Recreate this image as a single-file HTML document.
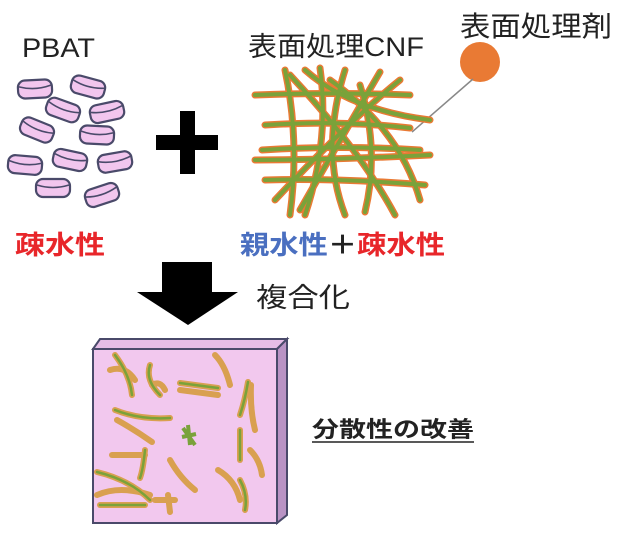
<!DOCTYPE html>
<html><head><meta charset="utf-8"><style>
html,body{margin:0;padding:0;background:#fff;}
svg{display:block}
text{font-family:"Liberation Sans","Noto Sans CJK JP",sans-serif;}
</style></head><body>
<svg width="619" height="537" viewBox="0 0 619 537" xmlns="http://www.w3.org/2000/svg">
<defs>
<g id="pill">
<rect x="-17" y="-9" width="34" height="18" rx="7" fill="#f2c6ee" stroke="#4a4a6a" stroke-width="2.2"/>
<path d="M-16,-3 Q0,2 16,-3" fill="none" stroke="#4a4a6a" stroke-width="1.6"/>
</g>
</defs>
<text x="22" y="57" font-size="27" fill="#222" textLength="73" lengthAdjust="spacingAndGlyphs">PBAT</text>
<text x="248" y="56" font-size="27" fill="#222" textLength="176" lengthAdjust="spacingAndGlyphs">表面処理CNF</text>
<text x="460" y="36" font-size="28" fill="#222" textLength="152" lengthAdjust="spacingAndGlyphs">表面処理剤</text>
<circle cx="480" cy="62" r="20" fill="#e97a34"/>
<line x1="473" y1="79" x2="412" y2="132" stroke="#888" stroke-width="1.5"/>
<use href="#pill" transform="translate(35,89) rotate(-3)"/>
<use href="#pill" transform="translate(88,87) rotate(15)"/>
<use href="#pill" transform="translate(63,110) rotate(20)"/>
<use href="#pill" transform="translate(107,112) rotate(-12)"/>
<use href="#pill" transform="translate(37,130) rotate(22)"/>
<use href="#pill" transform="translate(97,135) rotate(3)"/>
<use href="#pill" transform="translate(25,165) rotate(5)"/>
<use href="#pill" transform="translate(70,160) rotate(12)"/>
<use href="#pill" transform="translate(115,162) rotate(-10)"/>
<use href="#pill" transform="translate(53,188) rotate(0)"/>
<use href="#pill" transform="translate(102,195) rotate(-18)"/>
<rect x="156" y="135" width="62" height="15" fill="#000"/>
<rect x="180" y="111" width="15" height="63" fill="#000"/>
<text x="15" y="254" font-size="26" font-weight="bold" fill="#e8262a" textLength="90" lengthAdjust="spacingAndGlyphs">疎水性</text>
<g fill="none" stroke-linecap="round">
<g stroke="#e97a34" stroke-width="7">
<path d="M255,95 Q330,92 410,95"/><path d="M265,125 Q340,120 410,128"/><path d="M262,150 Q340,145 420,150"/><path d="M255,160 Q330,160 430,155"/><path d="M265,180 Q340,178 425,185"/><path d="M285,70 Q300,140 290,215"/><path d="M320,68 Q330,140 305,215"/><path d="M345,70 Q320,150 345,215"/><path d="M380,72 Q340,140 300,210"/><path d="M400,80 Q350,120 275,200"/><path d="M290,75 Q360,150 395,215"/><path d="M330,80 Q400,130 420,200"/><path d="M360,85 Q380,150 365,212"/><path d="M305,70 Q350,110 430,120"/>
</g>
<g stroke="#7aa23a" stroke-width="4">
<path d="M255,95 Q330,92 410,95"/><path d="M265,125 Q340,120 410,128"/><path d="M262,150 Q340,145 420,150"/><path d="M255,160 Q330,160 430,155"/><path d="M265,180 Q340,178 425,185"/><path d="M285,70 Q300,140 290,215"/><path d="M320,68 Q330,140 305,215"/><path d="M345,70 Q320,150 345,215"/><path d="M380,72 Q340,140 300,210"/><path d="M400,80 Q350,120 275,200"/><path d="M290,75 Q360,150 395,215"/><path d="M330,80 Q400,130 420,200"/><path d="M360,85 Q380,150 365,212"/><path d="M305,70 Q350,110 430,120"/>
</g>
</g>
<text x="240" y="254" font-size="26" font-weight="bold" textLength="205" lengthAdjust="spacingAndGlyphs"><tspan fill="#4a6fc0">親水性</tspan><tspan fill="#222">＋</tspan><tspan fill="#e8262a">疎水性</tspan></text>
<polygon points="162,262 212,262 212,292 238,292 188,325 137,292 162,292" fill="#000"/>
<text x="256" y="307" font-size="27" fill="#222" textLength="94" lengthAdjust="spacingAndGlyphs">複合化</text>
<polygon points="93,349 100,339 287,339 277,349" fill="#e6bde6" stroke="#4a4a6a" stroke-width="2"/>
<polygon points="277,349 287,339 287,515 277,523" fill="#b993c4" stroke="#4a4a6a" stroke-width="2"/>
<rect x="93" y="349" width="184" height="174" fill="#f2c8ee" stroke="#4a4a6a" stroke-width="2"/>
<g fill="none" stroke-linecap="round">
<g stroke="#d9a050" stroke-width="6">
<path d="M115,355 Q130,375 132,395"/><path d="M110,370 Q125,365 135,380"/><path d="M150,365 Q145,380 160,395"/><path d="M152,385 Q160,380 165,390"/><path d="M180,383 L218,388"/><path d="M180,390 L218,395"/><path d="M215,355 Q225,365 230,385"/><path d="M248,382 Q245,400 240,415"/><path d="M251,385 Q250,410 255,430"/><path d="M115,410 Q140,420 170,418"/><path d="M117,420 Q135,430 152,442"/><path d="M240,430 L240,460"/><path d="M250,450 Q260,460 262,475"/><path d="M112,455 L145,455"/><path d="M145,450 Q143,470 140,478"/><path d="M170,460 Q180,478 195,490"/><path d="M97,472 Q130,480 150,500"/><path d="M97,495 Q120,485 150,495"/><path d="M100,505 L145,505"/><path d="M155,500 L175,500"/><path d="M168,495 L170,512"/><path d="M218,470 Q235,480 240,500"/><path d="M240,480 Q248,495 245,510"/>
</g>
<g stroke="#7aa23a" stroke-width="2.5">
<path d="M115,355 Q130,375 132,395"/><path d="M150,365 Q145,380 160,395"/><path d="M180,383 L218,388"/><path d="M248,382 Q245,400 240,415"/><path d="M115,410 Q140,420 170,418"/><path d="M240,430 L240,460"/><path d="M145,450 Q143,470 140,478"/><path d="M97,472 Q130,480 150,500"/><path d="M100,505 L145,505"/><path d="M240,480 Q248,495 245,510"/>
</g>
</g>
<g stroke="#7aa23a" stroke-width="4"><path d="M183,428 L195,445 M188,425 L190,445 M182,437 L196,434"/></g>
<text x="312" y="437" font-size="22" font-weight="bold" fill="#222" textLength="162" lengthAdjust="spacingAndGlyphs">分散性の改善</text>
<line x1="312" y1="442" x2="474" y2="442" stroke="#222" stroke-width="1.5"/>
</svg>
</body></html>
